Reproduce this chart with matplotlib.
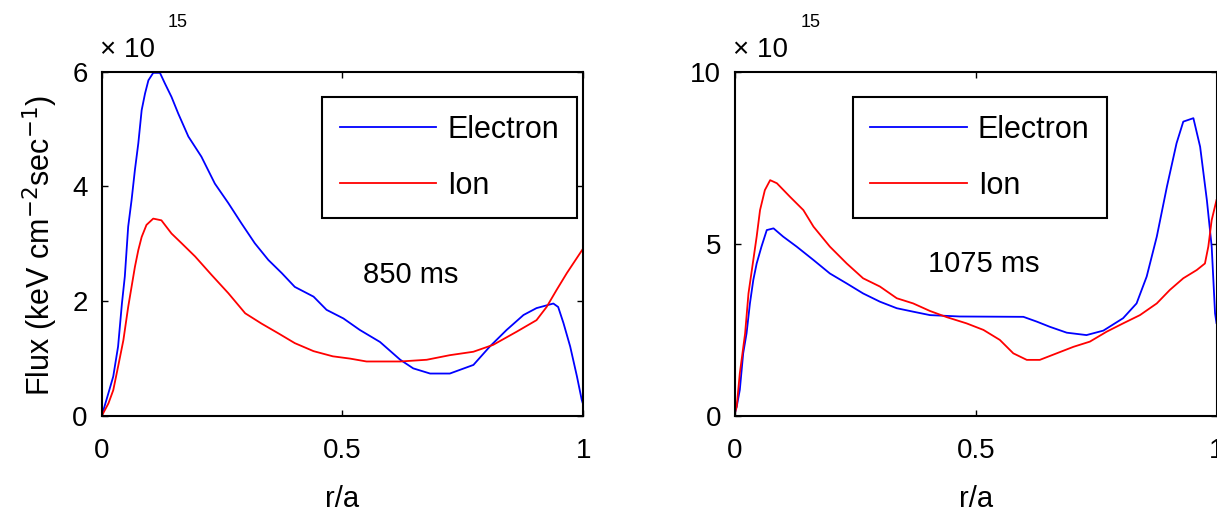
import numpy as np
import matplotlib
matplotlib.use('Agg')
import matplotlib.pyplot as plt

plt.rcParams['font.family'] = ['Liberation Sans', 'DejaVu Sans']

# 850 ms profiles (flux in units of 1e15)
r_e850 = [0, 0.014, 0.024, 0.034, 0.042, 0.048, 0.055, 0.062, 0.069, 0.076, 0.083, 0.090,
          0.097, 0.107, 0.121, 0.131, 0.145, 0.159, 0.180, 0.207, 0.235, 0.263, 0.290, 0.318,
          0.346, 0.374, 0.401, 0.44, 0.467, 0.502, 0.536, 0.578, 0.62, 0.647, 0.682, 0.723,
          0.772, 0.806, 0.841, 0.876, 0.903, 0.938, 0.948, 0.959, 0.973, 0.987, 0.997, 1.0]
f_e850 = [0, 0.40, 0.69, 1.21, 1.96, 2.43, 3.30, 3.76, 4.29, 4.75, 5.33, 5.62,
          5.85, 5.98, 5.98, 5.80, 5.56, 5.27, 4.87, 4.52, 4.05, 3.71, 3.36, 3.01,
          2.72, 2.49, 2.25, 2.08, 1.85, 1.70, 1.50, 1.29, 0.98, 0.83, 0.74, 0.74,
          0.89, 1.21, 1.50, 1.76, 1.88, 1.96, 1.90, 1.62, 1.21, 0.69, 0.28, 0.2]
r_i850 = [0, 0.014, 0.024, 0.034, 0.045, 0.055, 0.062, 0.069, 0.076, 0.083, 0.093, 0.107,
          0.124, 0.145, 0.166, 0.194, 0.228, 0.263, 0.298, 0.332, 0.367, 0.401, 0.44, 0.48,
          0.516, 0.55, 0.62, 0.675, 0.723, 0.772, 0.813, 0.862, 0.903, 0.924, 0.945, 0.966, 1.0]
f_i850 = [0, 0.22, 0.45, 0.86, 1.32, 1.90, 2.25, 2.60, 2.89, 3.12, 3.33, 3.44,
          3.41, 3.18, 3.01, 2.78, 2.46, 2.14, 1.79, 1.61, 1.44, 1.27, 1.13, 1.04,
          1.0, 0.95, 0.95, 0.98, 1.06, 1.12, 1.24, 1.47, 1.67, 1.90, 2.20, 2.49, 2.92]

# 1075 ms profiles
r_e1075 = [0, 0.0035, 0.010, 0.017, 0.024, 0.031, 0.038, 0.045, 0.055, 0.066, 0.080, 0.100,
           0.128, 0.163, 0.197, 0.232, 0.266, 0.301, 0.336, 0.370, 0.405, 0.467, 0.599, 0.627,
           0.654, 0.689, 0.730, 0.765, 0.806, 0.834, 0.855, 0.876, 0.897, 0.917, 0.931, 0.952,
           0.966, 0.980, 0.990, 0.997, 1.0]
f_e1075 = [0.1, 0.27, 0.76, 1.82, 2.40, 3.27, 3.95, 4.43, 4.92, 5.40, 5.45, 5.21,
           4.92, 4.53, 4.14, 3.85, 3.56, 3.32, 3.13, 3.03, 2.93, 2.89, 2.88, 2.74,
           2.59, 2.42, 2.35, 2.48, 2.84, 3.27, 4.05, 5.21, 6.66, 7.92, 8.55, 8.65,
           7.82, 6.27, 4.92, 2.98, 2.7]
r_i1075 = [0, 0.0035, 0.010, 0.021, 0.028, 0.038, 0.045, 0.052, 0.062, 0.073, 0.087, 0.114,
           0.142, 0.163, 0.197, 0.232, 0.266, 0.301, 0.336, 0.370, 0.405, 0.44, 0.481, 0.516,
           0.55, 0.578, 0.606, 0.633, 0.668, 0.703, 0.737, 0.772, 0.806, 0.841, 0.876, 0.903,
           0.931, 0.959, 0.976, 0.983, 0.99, 1.0]
f_i1075 = [0.1, 0.27, 1.24, 2.40, 3.56, 4.53, 5.21, 5.98, 6.56, 6.85, 6.76, 6.37,
           5.98, 5.50, 4.92, 4.43, 4.00, 3.76, 3.42, 3.27, 3.05, 2.87, 2.69, 2.50,
           2.21, 1.82, 1.63, 1.63, 1.82, 2.01, 2.16, 2.45, 2.69, 2.93, 3.27, 3.66,
           4.0, 4.24, 4.43, 4.92, 5.69, 6.27]

panels = [
    {'re': r_e850, 'fe': f_e850, 'ri': r_i850, 'fi': f_i850, 'ymax': 6, 'yticks': [0, 2, 4, 6],
     'label': '850 ms', 'lab_xy': (0.543, 2.46), 'leg_x': 0.987},
    {'re': r_e1075, 'fe': f_e1075, 'ri': r_i1075, 'fi': f_i1075, 'ymax': 10, 'yticks': [0, 5, 10],
     'label': '1075 ms', 'lab_xy': (0.40, 4.41), 'leg_x': 0.773},
]

W, H = 1217, 513
fig = plt.figure(figsize=(W / 100, H / 100), dpi=100)
lefts = [101.7, 735]
ax_w, ax_top, ax_bot = 481.5, 71.7, 416

for left, p in zip(lefts, panels):
    ax = fig.add_axes([left / W, 1 - ax_bot / H, ax_w / W, (ax_bot - ax_top) / H])
    ax.plot(p['re'], p['fe'], color='#0000ff', lw=1.3, label='Electron')
    ax.plot(p['ri'], p['fi'], color='#ff0000', lw=1.3, label='Ion')
    ax.set_xlim(0, 1)
    ax.set_ylim(0, p['ymax'])
    ax.set_xticks([0, 0.5, 1])
    ax.set_xticklabels(['0', '0.5', '1'])
    ax.set_yticks(p['yticks'])
    ax.tick_params(direction='in', top=True, right=True, length=4, width=1, labelsize=20)
    ax.tick_params(axis='x', pad=16)
    ax.tick_params(axis='y', pad=10)
    for s in ax.spines.values():
        s.set_linewidth(1.5)
    ax.text(p['lab_xy'][0], p['lab_xy'][1], p['label'], fontsize=21, va='center', ha='left')
    leg = ax.legend(loc='upper right', bbox_to_anchor=(p['leg_x'], 0.926), fontsize=22,
                    frameon=True, fancybox=False, edgecolor='black', framealpha=1,
                    handlelength=3.15, handletextpad=0.36, labelspacing=0.84, borderpad=0.58,
                    borderaxespad=0)
    leg.get_frame().set_linewidth(1.5)
    ax.text(-0.004, 1.043, '\u00d7 10', transform=ax.transAxes, fontsize=20, va='baseline')
    ax.text(0.136, 1.13, '15', transform=ax.transAxes, fontsize=13, va='baseline')
    fig.text((left + ax_w / 2) / W, 1 - 499 / H, 'r/a', fontsize=21, ha='center', va='center')

fig.text(40 / W, 1 - 245 / H, 'Flux (keV cm$^{-2}$sec$^{-1}$)', rotation=90, fontsize=22,
         ha='center', va='center')

fig.savefig('out.png', dpi=100)
